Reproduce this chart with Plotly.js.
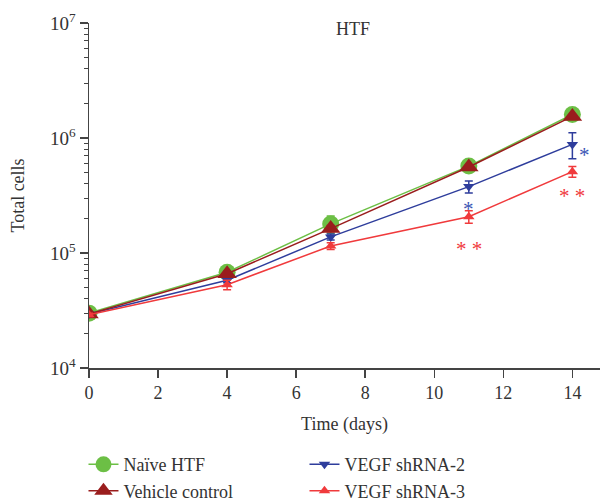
<!DOCTYPE html>
<html><head><meta charset="utf-8">
<script src="https://cdn.plot.ly/plotly-3.0.1.min.js"></script>
<style>html,body{margin:0;padding:0;background:#fff}</style>
</head><body><div id="chart" style="width:605px;height:503px"></div>
<script>
const days = [0, 4, 7, 11, 14];
const naive = [30000, 68000, 179000, 570000, 1600000];
const naiveErr = [1500, 4000, 31000, 25000, 60000];
const vehicle = [29500, 66000, 163000, 560000, 1540000];
const vehicleErr = [1000, 3000, 10000, 20000, 50000];
const sh2 = [29500, 58000, 138000, 378000, 880000];
const sh2ErrPlus = [1000, 3000, 8000, 45000, 230000];
const sh2ErrMinus = [1000, 3000, 8000, 45000, 220000];
const sh3 = [29000, 53000, 115000, 207000, 510000];
const sh3Err = [1000, 5000, 8000, 26000, 55000];
const yTickVals = [1e4, 1e5, 1e6, 1e7];
const yTickText = ['10<sup>4</sup>', '10<sup>5</sup>', '10<sup>6</sup>', '10<sup>7</sup>'];
const stars = [
  {x: 14, y: 870000, text: '*', color: '#3b55b5', dx: 12, dy: 10},
  {x: 11, y: 378000, text: '*', color: '#3b55b5', dx: 0, dy: 22},
  {x: 11, y: 207000, text: '* *', color: '#f0393c', dx: 0, dy: 32},
  {x: 14, y: 510000, text: '* *', color: '#f0393c', dx: 0, dy: 24}
];

const font = 'Liberation Serif, Times New Roman, serif';
function tr(name, y, color, sym, size, ep, em) {
  return {
    x: days, y: y, name: name, type: 'scatter', mode: 'lines+markers',
    line: {color: color, width: 1.5},
    marker: {symbol: sym, size: size, color: color},
    error_y: {type: 'data', array: ep, arrayminus: em, visible: true, color: color, thickness: 1.5, width: 4}
  };
}
const data = [
  tr('Naïve HTF', naive, '#6cbf45', 'circle', 17, naiveErr, naiveErr),
  tr('VEGF shRNA-2', sh2, '#2e3d9c', 'triangle-down', 10, sh2ErrPlus, sh2ErrMinus),
  tr('Vehicle control', vehicle, '#9a1d1d', 'triangle-up', 17, vehicleErr, vehicleErr),
  tr('VEGF shRNA-3', sh3, '#f03a3c', 'triangle-up', 10, sh3Err, sh3Err)
];
const annotations = stars.map(s => ({
  x: s.x, y: Math.log10(s.y), xref: 'x', yref: 'y', text: s.text, showarrow: false,
  xshift: s.dx, yshift: -s.dy, font: {family: font, size: 21, color: s.color}
}));
annotations.push({
  x: 0.5, y: 1.0, xref: 'paper', yref: 'paper', text: 'HTF', showarrow: false,
  yshift: 6, xshift: 8, font: {family: font, size: 18, color: '#333'}
});
const layout = {
  width: 605, height: 503,
  margin: {l: 89, r: 5, t: 23, b: 135},
  paper_bgcolor: '#fff', plot_bgcolor: '#fff',
  font: {family: font, size: 18, color: '#333'},
  showlegend: true,
  legend: {orientation: 'h', x: 0.138, xref: 'container', xanchor: 'left', y: 0.113, yref: 'container', yanchor: 'top',
    entrywidth: 176, entrywidthmode: 'pixels', tracegroupgap: 0,
    font: {family: font, size: 18, color: '#333'}},
  xaxis: {
    range: [0, 14.8], tickvals: [0, 2, 4, 6, 8, 10, 12, 14], automargin: false,
    showgrid: false, zeroline: false, showline: true, linecolor: '#444', linewidth: 1.5,
    ticks: 'outside', ticklen: 8, tickwidth: 1.5, tickcolor: '#444',
    tickfont: {family: font, size: 18, color: '#333'},
    title: {text: 'Time (days)', font: {family: font, size: 18, color: '#333'}, standoff: 15}
  },
  yaxis: {
    type: 'log', range: [4, 7], tickvals: yTickVals, ticktext: yTickText, automargin: false,
    showgrid: false, zeroline: false, showline: true, linecolor: '#444', linewidth: 1.5,
    ticks: 'outside', ticklen: 8, tickwidth: 1.5, tickcolor: '#444',
    tickfont: {family: font, size: 19, color: '#333'},
    minor: {dtick: 'D1', ticks: 'outside', ticklen: 4, tickwidth: 1.2, tickcolor: '#444', showgrid: false},
    title: {text: 'Total cells', font: {family: font, size: 18, color: '#333'}, standoff: 20}
  },
  annotations: annotations
};
Plotly.newPlot('chart', data, layout, {displayModeBar: false, staticPlot: true});
</script></body></html>
